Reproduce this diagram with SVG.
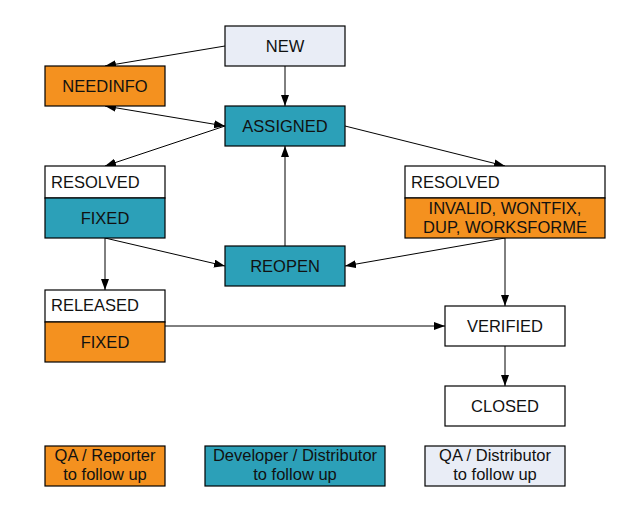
<svg xmlns="http://www.w3.org/2000/svg" width="640" height="520" viewBox="0 0 640 520">
  <style>
    .box { stroke: #000; stroke-width: 1.2; }
    .w { fill: #ffffff; }
    .o { fill: #F4911F; }
    .t { fill: #2CA0B8; }
    .l { fill: #E9EDF6; }
    text { font-family: "Liberation Sans", Arial, sans-serif; font-size: 16.5px; fill: #111; }
    .c { text-anchor: middle; }
    .edge { stroke: #000; stroke-width: 1; fill: none; marker-end: url(#ah); }
    .both { marker-start: url(#ah); }
  </style>
  <defs>
    <marker id="ah" markerUnits="userSpaceOnUse" markerWidth="12" markerHeight="9" refX="11" refY="4" orient="auto-start-reverse">
      <path d="M0,0 L11,4 L0,8 z" fill="#000"/>
    </marker>
  </defs>
  <rect width="640" height="520" fill="#fff"/>

  <g id="connectors">
    <line class="edge" x1="225" y1="46" x2="105" y2="66"/>
    <line class="edge" x1="285" y1="66" x2="285" y2="106"/>
    <line class="edge both" x1="105" y1="106" x2="225" y2="126"/>
    <line class="edge" x1="225" y1="126" x2="105" y2="166"/>
    <line class="edge" x1="345" y1="126" x2="505" y2="166"/>
    <line class="edge" x1="285" y1="246" x2="285" y2="146"/>
    <line class="edge" x1="105" y1="238" x2="225" y2="266"/>
    <line class="edge" x1="505" y1="238" x2="345" y2="266"/>
    <line class="edge" x1="105" y1="238" x2="105" y2="290"/>
    <line class="edge" x1="505" y1="238" x2="505" y2="306"/>
    <line class="edge" x1="165" y1="326" x2="445" y2="326"/>
    <line class="edge" x1="505" y1="346" x2="505" y2="386"/>
  </g>

  <g id="new">
    <rect class="box l" x="225" y="26" width="120" height="40"/>
    <text class="c" x="285" y="52">NEW</text>
  </g>
  <g id="needinfo">
    <rect class="box o" x="45" y="66" width="120" height="40"/>
    <text class="c" x="105" y="92">NEEDINFO</text>
  </g>
  <g id="assigned">
    <rect class="box t" x="225" y="106" width="120" height="40"/>
    <text class="c" x="285" y="132">ASSIGNED</text>
  </g>
  <g id="resolved-fixed">
    <rect class="box w" x="45" y="166" width="120" height="32"/>
    <rect class="box t" x="45" y="198" width="120" height="40"/>
    <text x="51" y="188">RESOLVED</text>
    <text class="c" x="105" y="224">FIXED</text>
  </g>
  <g id="resolved-other">
    <rect class="box w" x="405" y="166" width="200" height="32"/>
    <rect class="box o" x="405" y="198" width="200" height="40"/>
    <text x="411" y="188">RESOLVED</text>
    <text class="c" x="505" y="214">INVALID, WONTFIX,</text>
    <text class="c" x="505" y="233">DUP, WORKSFORME</text>
  </g>
  <g id="reopen">
    <rect class="box t" x="225" y="246" width="120" height="40"/>
    <text class="c" x="285" y="272">REOPEN</text>
  </g>
  <g id="released">
    <rect class="box w" x="45" y="290" width="120" height="32"/>
    <rect class="box o" x="45" y="322" width="120" height="40"/>
    <text x="51" y="311">RELEASED</text>
    <text class="c" x="105" y="348">FIXED</text>
  </g>
  <g id="verified">
    <rect class="box w" x="445" y="306" width="120" height="40"/>
    <text class="c" x="505" y="332">VERIFIED</text>
  </g>
  <g id="closed">
    <rect class="box w" x="445" y="386" width="120" height="40"/>
    <text class="c" x="505" y="412">CLOSED</text>
  </g>

  <g id="legend-qa-reporter">
    <rect class="box o" x="45" y="446" width="120" height="40"/>
    <text class="c" x="105" y="461">QA / Reporter</text>
    <text class="c" x="105" y="480">to follow up</text>
  </g>
  <g id="legend-developer">
    <rect class="box t" x="205" y="446" width="180" height="40"/>
    <text class="c" x="295" y="461">Developer / Distributor</text>
    <text class="c" x="295" y="480">to follow up</text>
  </g>
  <g id="legend-qa-distributor">
    <rect class="box l" x="425" y="446" width="140" height="40"/>
    <text class="c" x="495" y="461">QA / Distributor</text>
    <text class="c" x="495" y="480">to follow up</text>
  </g>
</svg>
